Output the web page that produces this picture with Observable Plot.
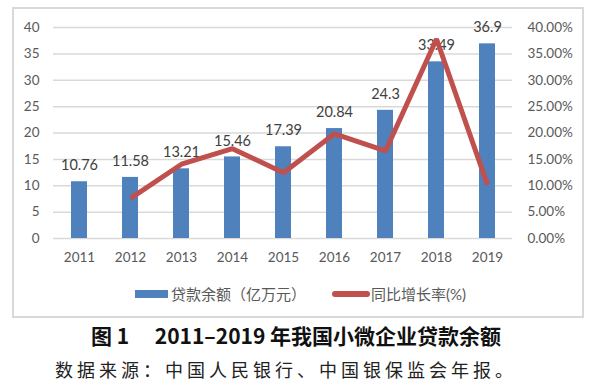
<!DOCTYPE html>
<html><head><meta charset="utf-8">
<script src="https://cdn.jsdelivr.net/npm/d3@7"></script>
<script src="https://cdn.jsdelivr.net/npm/@observablehq/plot@0.6"></script>
<style>
body{margin:0;background:#fff;}
#wrap{position:relative;width:600px;height:386px;overflow:hidden;font-family:Lato,"Noto Sans CJK SC",sans-serif;}
#box{position:absolute;left:12px;top:7px;width:568px;height:307px;border:2px solid #d9d9d9;}
#chart{position:absolute;left:0;top:0;}
.leg{position:absolute;top:283px;display:flex;align-items:center;font-size:15px;color:#595959;white-space:nowrap;}
.sw{display:inline-block;margin-right:3px;}
#title{position:absolute;left:0;width:592px;top:320px;text-align:center;font-family:"Noto Sans CJK SC",sans-serif;font-weight:bold;font-size:21px;color:#111;white-space:pre;}
#cap{position:absolute;left:0;width:572px;top:356px;text-align:center;font-family:"Noto Sans CJK SC",sans-serif;font-size:18px;letter-spacing:4px;color:#222;white-space:nowrap;}
</style>
</head><body>
<div id="wrap">
  <div id="box"></div>
  <div id="chart"></div>
  <div class="leg" style="left:135px"><span class="sw" style="width:33px;height:8px;background:#4f81bd"></span><span id="leg1"></span></div>
  <div class="leg" style="left:332px"><span class="sw" style="width:38px;height:6px;border-radius:3px;background:#c0504d;margin-right:1px"></span><span id="leg2"></span></div>
  <div id="title"></div>
  <div id="cap"></div>
</div>
<script>
const years = ["2011","2012","2013","2014","2015","2016","2017","2018","2019"];
const loans = [10.76, 11.58, 13.21, 15.46, 17.39, 20.84, 24.3, 33.49, 36.9];
const loanLabels = ["10.76","11.58","13.21","15.46","17.39","20.84","24.3","33.49","36.9"];
const growthYears = ["2012","2013","2014","2015","2016","2017","2018","2019"];
const growth = [7.62, 14.08, 17.03, 12.48, 19.84, 16.60, 37.82, 10.18];
const leftTicks = [0, 5, 10, 15, 20, 25, 30, 35, 40];
const rightTickLabels = ["0.00%","5.00%","10.00%","15.00%","20.00%","25.00%","30.00%","35.00%","40.00%"];
const seriesNames = ["贷款余额（亿万元）", "同比增长率(%)"];
const titleText = "图 1\u3000 2011–2019 年我国小微企业贷款余额";
const captionText = "数据来源：中国人民银行、中国银保监会年报。";

const bars = years.map((y, i) => ({year: y, loan: loans[i], label: loanLabels[i]}));
const rates = growthYears.map((y, i) => ({year: y, rate: growth[i]}));

const chart = Plot.plot({
  width: 600,
  height: 270,
  marginLeft: 53,
  marginRight: 88,
  marginTop: 27,
  marginBottom: 32,
  style: {fontFamily: 'Lato, "Noto Sans CJK SC", sans-serif', fontSize: "13.5px", color: "#595959", background: "transparent"},
  x: {type: "band", domain: years, paddingInner: 0.69, paddingOuter: 0.345},
  y: {domain: [0, 40]},
  marks: [
    Plot.gridY(leftTicks, {stroke: "#d9d9d9", strokeOpacity: 1, strokeWidth: 1.5}),
    Plot.barY(bars, {x: "year", y: "loan", fill: "#4f81bd"}),
    Plot.text(bars, {x: "year", y: "loan", text: "label", dy: -16, fill: "#404040", fontSize: 14.5}),
    Plot.line(rates, {x: "year", y: "rate", stroke: "#c0504d", strokeWidth: 5, strokeLinejoin: "miter", strokeLinecap: "butt"}),
    Plot.axisY(leftTicks, {anchor: "left", tickSize: 0, tickPadding: 14, label: null}),
    Plot.axisY(leftTicks, {anchor: "right", tickSize: 0, tickPadding: 15, label: null, tickFormat: d => rightTickLabels[leftTicks.indexOf(d)]}),
    Plot.axisX({tickSize: 0, tickPadding: 14, label: null})
  ]
});
document.getElementById("chart").appendChild(chart);
document.getElementById("leg1").textContent = seriesNames[0];
document.getElementById("leg2").textContent = seriesNames[1];
document.getElementById("title").textContent = titleText;
document.getElementById("cap").textContent = captionText;
</script>
</body></html>
